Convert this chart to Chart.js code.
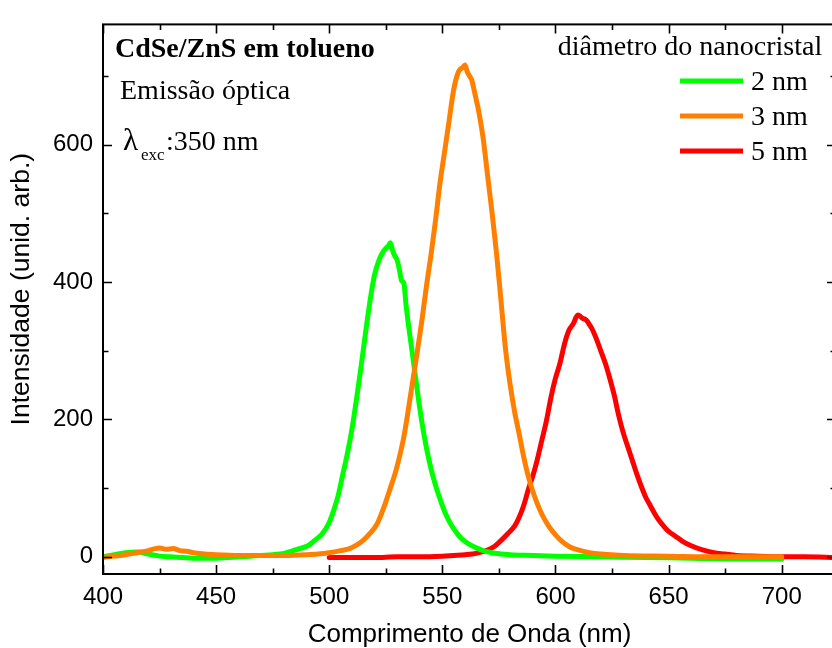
<!DOCTYPE html>
<html>
<head>
<meta charset="utf-8">
<script src="https://cdn.jsdelivr.net/npm/chart.js@4.4.1/dist/chart.umd.min.js"></script>
<style>
  html, body { margin: 0; padding: 0; background: #fff; overflow: hidden; width: 832px; height: 648px; }
  #wrap { width: 840px; height: 648px; }
</style>
</head>
<body>
<div id="wrap"><canvas id="spectra" width="840" height="648"></canvas></div>
<script>
// Emission spectra of CdSe/ZnS quantum dots in toluene (excitation 350 nm)
const seriesLabels = ['2 nm', '3 nm', '5 nm'];
const seriesColors = ['#00ff00', '#ff8000', '#ff0000'];

const wavelength2nm = [400,405,410,415,420,425,430,435,440,445,450,455,460,465,470,475,480,484,488,491,494,497,500,502,504,506,508,510,512,514,516,518,520,522,524,525,526,527,528,529,530,531,532,533,534,535,537,539,541,543,545,547,549,551,553,555,557,559,562,565,568,572,576,580,590,600,620,640,660,680,700];
const intensity2nm  = [0,3,6,7,4,1,0,-1,-2,-2,-2,-1,0,1,2,3,5,9,13,17,25,34,50,68,90,120,150,185,228,275,325,372,410,432,445,449,452,457,446,438,432,418,402,398,365,338,290,240,195,158,128,104,84,66,52,41,32,25,18,13,9,6,4,3,2,1,0,-1,-2,-3,-3];

const wavelength3nm = [400,405,410,415,420,423,425,428,431,434,437,440,445,450,460,470,480,490,495,500,505,509,512,515,518,521,523,525,527,529,531,533,535,537,539,541,543,545,547,549,551,553,555,557,558,559,560,561,562,563,564,565,566,568,570,572,574,576,578,580,582,584,586,588,590,592,594,596,598,600,603,606,610,615,620,630,650,670,700];
const intensity3nm  = [-1,1,3,6,9,12,13,11,12,9,8,6,4,3,2,2,2,3,4,6,9,12,17,24,34,47,62,80,100,120,145,175,215,258,300,345,395,440,490,545,590,635,680,705,710,712,716,706,700,694,680,665,650,610,555,500,440,370,300,250,210,178,145,117,95,77,62,50,40,32,22,15,10,6,4,2,1,0,0];

const wavelength5nm = [500,510,520,530,540,550,555,560,565,570,573,576,579,582,584,586,588,590,592,594,596,598,600,602,604,606,608,609,610,611,612,613,614,615,616,618,620,622,624,626,628,630,632,634,636,638,640,642,644,646,648,650,653,656,660,665,670,675,680,690,700,710,724];
const intensity5nm  = [-1,-1,-1,0,0,1,2,3,5,10,15,24,34,45,58,75,98,118,142,170,198,232,260,282,310,330,340,348,352,350,347,346,343,338,333,318,300,282,260,235,205,180,160,140,120,102,86,74,62,52,44,37,30,23,16,10,6,4,2,1,0,0,-1];

const xTickValues = [400, 450, 500, 550, 600, 650, 700];
const yTickValues = [0, 200, 400, 600];
const xAxisTitle = 'Comprimento de Onda (nm)';
const yAxisTitle = 'Intensidade (unid. arb.)';

const SANS = "'Liberation Sans', Arial, Helvetica, sans-serif";
const SERIF = "'Liberation Serif', 'Times New Roman', Times, serif";

const toPoints = (xs, ys) => xs.map((x, i) => ({ x, y: ys[i] }));

// halfway ticks between the labelled ones, plus one step past the last
function minorTicks(major, min, max) {
  const step = major[1] - major[0];
  const out = [];
  for (let v = major[0] - step / 2; v <= max; v += step) {
    if (v >= min) out.push(v);
  }
  return out;
}

// closed frame with inward tick marks on all four sides
const frameTicks = {
  id: 'frameTicks',
  afterDraw(chart) {
    const { ctx, chartArea: a, scales: { x, y } } = chart;
    ctx.save();
    ctx.strokeStyle = '#000';
    ctx.lineWidth = 2;
    ctx.strokeRect(a.left, a.top, a.right - a.left, a.bottom - a.top);
    ctx.lineWidth = 1.6;
    ctx.beginPath();
    const xMinor = minorTicks(xTickValues, x.min, x.max);
    const yMinor = minorTicks(yTickValues, y.min, y.max);
    const xMarks = xTickValues.map(v => [v, 9]).concat(xMinor.map(v => [v, 5.5]));
    const yMarks = yTickValues.map(v => [v, 9]).concat(yMinor.map(v => [v, 5.5]));
    xMarks.forEach(([v, len]) => {
      const px = Math.round(x.getPixelForValue(v)) + 0.5;
      ctx.moveTo(px, a.bottom); ctx.lineTo(px, a.bottom - len);
      ctx.moveTo(px, a.top); ctx.lineTo(px, a.top + len);
    });
    yMarks.forEach(([v, len]) => {
      const py = Math.round(y.getPixelForValue(v)) + 0.5;
      ctx.moveTo(a.left, py); ctx.lineTo(a.left + len, py);
      ctx.moveTo(a.right, py); ctx.lineTo(a.right - len, py);
    });
    ctx.stroke();

    // vertical axis title, set a little above the middle of the plot
    ctx.fillStyle = '#000';
    ctx.font = `26.5px ${SANS}`;
    ctx.textAlign = 'center';
    ctx.textBaseline = 'middle';
    ctx.translate(22, (a.top + a.bottom) / 2 - 10);
    ctx.rotate(-Math.PI / 2);
    ctx.fillText(yAxisTitle, 0, 0);
    ctx.restore();
  }
};

// sample description and legend inside the plot
const annotations = {
  id: 'annotations',
  afterDraw(chart) {
    const { ctx } = chart;
    ctx.save();
    ctx.fillStyle = '#000';
    ctx.textAlign = 'left';
    ctx.textBaseline = 'alphabetic';

    ctx.font = `bold 28px ${SERIF}`;
    ctx.fillText('CdSe/ZnS em tolueno', 115, 57);
    ctx.font = `28px ${SERIF}`;
    ctx.fillText('Emissão óptica', 120, 99);

    ctx.font = `31px ${SERIF}`;
    ctx.fillText('λ', 123, 150);
    ctx.font = `17px ${SERIF}`;
    ctx.fillText('exc', 141, 160);
    ctx.font = `28px ${SERIF}`;
    ctx.fillText(':350 nm', 166, 150);

    ctx.textAlign = 'center';
    ctx.fillText('diâmetro do nanocristal', 690, 55);

    ctx.textAlign = 'left';
    chart.data.datasets.forEach((ds, i) => {
      const yy = 81 + 35 * i;
      ctx.strokeStyle = ds.borderColor;
      ctx.lineWidth = 5;
      ctx.beginPath();
      ctx.moveTo(680, yy);
      ctx.lineTo(743, yy);
      ctx.stroke();
      ctx.fillText(ds.label, 751, yy + 9);
    });
    ctx.restore();
  }
};

const datasets = [
  { label: seriesLabels[0], data: toPoints(wavelength2nm, intensity2nm), borderColor: seriesColors[0], order: 1 },
  { label: seriesLabels[1], data: toPoints(wavelength3nm, intensity3nm), borderColor: seriesColors[1], order: 0 },
  { label: seriesLabels[2], data: toPoints(wavelength5nm, intensity5nm), borderColor: seriesColors[2], order: 2 }
].map(d => Object.assign(d, {
  borderWidth: 5,
  pointRadius: 0,
  fill: false,
  tension: 0.25,
  cubicInterpolationMode: 'monotone',
  borderJoinStyle: 'round',
  borderCapStyle: 'round'
}));

new Chart(document.getElementById('spectra'), {
  type: 'line',
  data: { datasets },
  plugins: [frameTicks, annotations],
  options: {
    responsive: false,
    animation: false,
    devicePixelRatio: 1,
    layout: { padding: { left: 0, right: 4, top: 14, bottom: 0 } },
    plugins: { legend: { display: false }, tooltip: { enabled: false } },
    scales: {
      x: {
        type: 'linear',
        min: 400,
        max: 724,
        afterBuildTicks: s => { s.ticks = xTickValues.map(v => ({ value: v })); },
        afterFit: s => { s.height = 74; },
        grid: { display: false, drawTicks: false },
        border: { display: false },
        ticks: { color: '#000', padding: 9, maxRotation: 0, autoSkip: false, font: { family: SANS, size: 24 } },
        title: {
          display: true,
          text: xAxisTitle,
          color: '#000',
          font: { family: SANS, size: 26, lineHeight: 1 },
          padding: { top: 0, bottom: 0 }
        }
      },
      y: {
        type: 'linear',
        min: -25,
        max: 775,
        afterBuildTicks: s => { s.ticks = yTickValues.map(v => ({ value: v })); },
        afterFit: s => { s.width = 103; },
        grid: { display: false, drawTicks: false },
        border: { display: false },
        ticks: { color: '#000', padding: 10, autoSkip: false, font: { family: SANS, size: 24 } },
        title: { display: false }
      }
    }
  }
});
</script>
</body>
</html>
